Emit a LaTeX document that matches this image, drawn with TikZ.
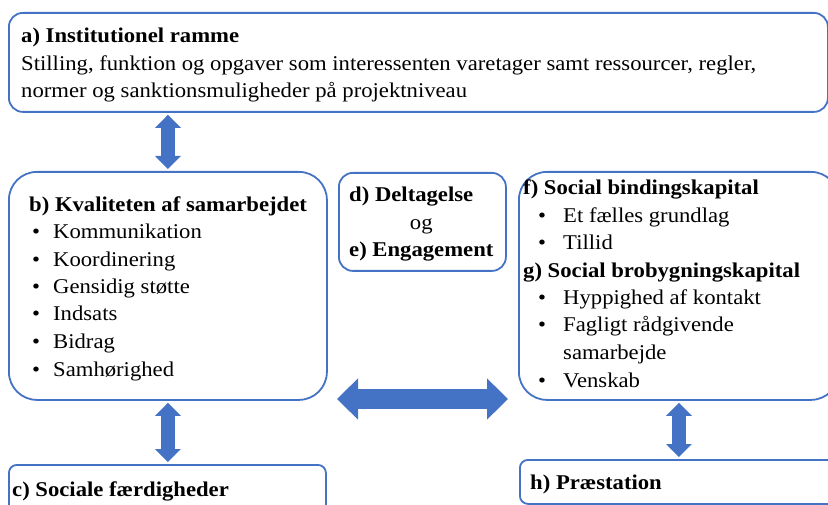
\documentclass[tikz,border=0pt]{standalone}
\usepackage{fontspec}
\setmainfont{Liberation Serif}[FakeStretch=1.08]
\usetikzlibrary{arrows.meta}
\definecolor{kantblaa}{RGB}{68,114,196}
\definecolor{pilblaa}{RGB}{68,114,196}
\newcommand{\bpkt}{\hspace*{3pt}\makebox[21pt][l]{\textbullet}}
\newcommand{\fpkt}{\hspace*{15pt}\makebox[25pt][l]{\textbullet}}
\tikzset{
  boks/.style={draw=kantblaa,line width=1.8pt,rectangle,anchor=north west,inner sep=0pt},
  tekst/.style={align=left,inner sep=0pt,anchor=base west,font=\fontsize{21}{27.5}\selectfont},
  pil/.style={draw=pilblaa,line width=14pt,{Triangle[width=25pt,length=13pt]}-{Triangle[width=25pt,length=13pt]},shorten <=2pt,shorten >=2pt},
  bredpil/.style={draw=pilblaa,line width=20pt,{Triangle[width=40pt,length=21pt]}-{Triangle[width=40pt,length=21pt]}}
}
\begin{document}
\begin{tikzpicture}[x=1pt,y=-1pt]
	\useasboundingbox (0,0) rectangle (828,505);
	\clip (0,0) rectangle (828,505);

	% kasser
	\node[boks,rounded corners=14pt,minimum width=819pt,minimum height=99pt] (a) at (8,12) {};
	\node[boks,rounded corners=28pt,minimum width=318pt,minimum height=228pt] (b) at (8,171) {};
	\node[boks,rounded corners=14pt,minimum width=167pt,minimum height=98pt] (de) at (338,172) {};
	\node[boks,rounded corners=28pt,minimum width=320pt,minimum height=228pt] (fg) at (518,171) {};
	\node[boks,rounded corners=8pt,minimum width=317pt,minimum height=60pt] (c) at (8,464) {};
	\node[boks,rounded corners=8pt,minimum width=330pt,minimum height=44pt] (h) at (519,459) {};

	% tekster (base = sidste linje)
	\node[tekst] (atekst) at (21,98) {\textbf{a) Institutionel ramme}\\
		Stilling, funktion og opgaver som interessenten varetager samt ressourcer, regler,\\
		normer og sanktionsmuligheder på projektniveau};
	\node[tekst] (btekst) at (29,376) {\textbf{b) Kvaliteten af samarbejdet}\\
		\bpkt Kommunikation\\ \bpkt Koordinering\\ \bpkt Gensidig støtte\\
		\bpkt Indsats\\ \bpkt Bidrag\\ \bpkt Samhørighed};
	\node[tekst] (detekst) at (349,202) {\begin{tabular}[t]{@{}l@{}}
		\textbf{d) Deltagelse}\\ \multicolumn{1}{@{}c@{}}{og}\\ \textbf{e) Engagement}
		\end{tabular}};
	\node[tekst] (fgtekst) at (523,387) {\textbf{f) Social bindingskapital}\\
		\fpkt Et fælles grundlag\\ \fpkt Tillid\\
		\textbf{g) Social brobygningskapital}\\
		\fpkt Hyppighed af kontakt\\ \fpkt Fagligt rådgivende\\
		\hspace*{40pt}samarbejde\\ \fpkt Venskab};
	\node[tekst] (ctekst) at (12,496) {\textbf{c) Sociale færdigheder}};
	\node[tekst] (htekst) at (530,489) {\textbf{h) Præstation}};

	% pile
	\draw[pil] (a.south -| b.north) -- (b.north);
	\draw[pil] (b.south) -- (b.south |- c.north);
	\draw[pil] (fg.south) -- (fg.south |- h.north);
	\coordinate (venstre) at (337,399);
	\coordinate (hoejre) at (508,399);
	\draw[bredpil] (venstre) -- (hoejre);

\end{tikzpicture}
\end{document}
